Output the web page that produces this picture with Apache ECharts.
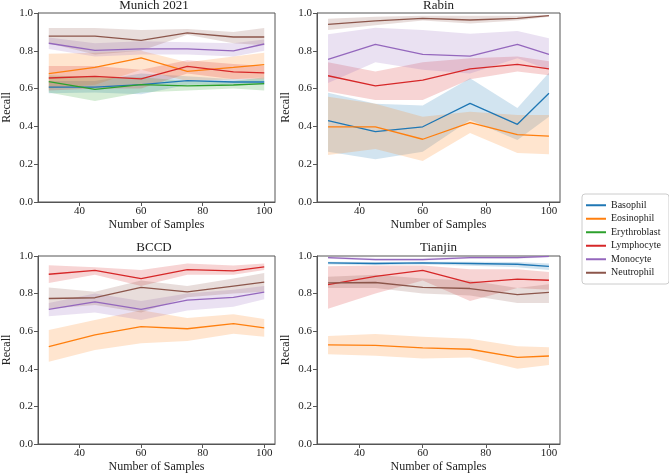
<!DOCTYPE html>
<html>
<head>
<meta charset="utf-8">
<script src="https://cdn.jsdelivr.net/npm/echarts@6/dist/echarts.min.js"></script>
<style>html,body{margin:0;padding:0;background:#fff}#c{width:669px;height:475px}</style>
</head>
<body>
<div id="c"></div>
<script>
// ---- data ----
const xs = [30, 45, 60, 75, 90, 100];
const classNames = ['Basophil', 'Eosinophil', 'Erythroblast', 'Lymphocyte', 'Monocyte', 'Neutrophil'];
const panelTitles = ['Munich 2021', 'Rabin', 'BCCD', 'Tianjin'];
const xTickValues = [40, 60, 80, 100];

// Munich 2021
const munBaso = [0.608, 0.608, 0.621, 0.642, 0.635, 0.635];
const munBasoLo = [0.575, 0.58, 0.57, 0.62, 0.62, 0.62];
const munBasoHi = [0.64, 0.64, 0.68, 0.665, 0.65, 0.65];
const munEos = [0.679, 0.712, 0.762, 0.691, 0.712, 0.727];
const munEosLo = [0.60, 0.62, 0.70, 0.64, 0.65, 0.66];
const munEosHi = [0.785, 0.79, 0.80, 0.74, 0.77, 0.79];
const munEry = [0.637, 0.596, 0.621, 0.614, 0.619, 0.626];
const munEryLo = [0.58, 0.535, 0.58, 0.59, 0.60, 0.59];
const munEryHi = [0.67, 0.66, 0.66, 0.64, 0.64, 0.66];
const munLym = [0.656, 0.665, 0.651, 0.718, 0.688, 0.683];
const munLymLo = [0.59, 0.60, 0.60, 0.68, 0.65, 0.65];
const munLymHi = [0.72, 0.72, 0.70, 0.75, 0.73, 0.72];
const munMon = [0.840, 0.802, 0.810, 0.810, 0.800, 0.836];
const munMonLo = [0.81, 0.77, 0.78, 0.78, 0.77, 0.80];
const munMonHi = [0.87, 0.84, 0.85, 0.845, 0.84, 0.86];
const munNeu = [0.878, 0.878, 0.855, 0.895, 0.873, 0.873];
const munNeuLo = [0.84, 0.78, 0.80, 0.885, 0.84, 0.83];
const munNeuHi = [0.92, 0.92, 0.91, 0.915, 0.90, 0.92];

// Rabin
const rabBaso = [0.430, 0.372, 0.398, 0.522, 0.411, 0.575];
const rabBasoLo = [0.266, 0.226, 0.266, 0.434, 0.328, 0.451];
const rabBasoHi = [0.578, 0.52, 0.51, 0.655, 0.497, 0.684];
const rabEos = [0.398, 0.398, 0.332, 0.420, 0.356, 0.349];
const rabEosLo = [0.249, 0.28, 0.217, 0.365, 0.259, 0.252];
const rabEosHi = [0.557, 0.52, 0.451, 0.478, 0.46, 0.46];
const rabLym = [0.668, 0.614, 0.645, 0.704, 0.728, 0.704];
const rabLymLo = [0.584, 0.54, 0.54, 0.65, 0.69, 0.67];
const rabLymHi = [0.739, 0.69, 0.74, 0.76, 0.77, 0.745];
const rabMon = [0.755, 0.834, 0.781, 0.772, 0.834, 0.781];
const rabMonLo = [0.63, 0.74, 0.70, 0.68, 0.76, 0.70];
const rabMonHi = [0.887, 0.922, 0.91, 0.89, 0.905, 0.866];
const rabNeu = [0.940, 0.958, 0.972, 0.963, 0.972, 0.986];
const rabNeuLo = [0.91, 0.935, 0.96, 0.945, 0.96, 0.98];
const rabNeuHi = [0.97, 0.98, 0.985, 0.985, 0.985, 0.99];

// BCCD
const bccdEos = [0.518, 0.580, 0.624, 0.613, 0.640, 0.618];
const bccdEosLo = [0.438, 0.50, 0.536, 0.548, 0.587, 0.571];
const bccdEosHi = [0.606, 0.66, 0.712, 0.67, 0.69, 0.665];
const bccdLym = [0.903, 0.924, 0.880, 0.928, 0.921, 0.942];
const bccdLymLo = [0.857, 0.90, 0.84, 0.90, 0.90, 0.925];
const bccdLymHi = [0.951, 0.94, 0.925, 0.96, 0.95, 0.96];
const bccdMon = [0.716, 0.756, 0.716, 0.765, 0.780, 0.808];
const bccdMonLo = [0.68, 0.70, 0.66, 0.71, 0.73, 0.77];
const bccdMonHi = [0.75, 0.80, 0.76, 0.80, 0.82, 0.84];
const bccdNeu = [0.774, 0.778, 0.833, 0.809, 0.840, 0.861];
const bccdNeuLo = [0.72, 0.74, 0.70, 0.78, 0.80, 0.81];
const bccdNeuHi = [0.833, 0.81, 0.87, 0.84, 0.88, 0.91];

// Tianjin
const tjBaso = [0.963, 0.960, 0.963, 0.960, 0.956, 0.945];
const tjBasoLo = [0.955, 0.952, 0.955, 0.948, 0.94, 0.925];
const tjBasoHi = [0.97, 0.968, 0.97, 0.97, 0.968, 0.96];
const tjEos = [0.527, 0.525, 0.511, 0.504, 0.461, 0.468];
const tjEosLo = [0.477, 0.47, 0.455, 0.46, 0.40, 0.42];
const tjEosHi = [0.574, 0.585, 0.57, 0.56, 0.52, 0.515];
const tjLym = [0.848, 0.892, 0.924, 0.857, 0.877, 0.871];
const tjLymLo = [0.72, 0.80, 0.87, 0.76, 0.83, 0.82];
const tjLymHi = [0.945, 0.95, 0.95, 0.93, 0.93, 0.915];
const tjMon = [0.991, 0.981, 0.981, 0.991, 0.991, 0.998];
const tjMonLo = [0.985, 0.975, 0.975, 0.985, 0.985, 0.993];
const tjMonHi = [0.997, 0.99, 0.99, 0.997, 0.997, 1.0];
const tjNeu = [0.857, 0.859, 0.833, 0.827, 0.795, 0.806];
const tjNeuLo = [0.83, 0.83, 0.80, 0.79, 0.75, 0.75];
const tjNeuHi = [0.89, 0.90, 0.88, 0.87, 0.83, 0.85];

// ---- styling / layout ----
const colors = {
  Basophil: '#1f77b4', Eosinophil: '#ff7f0e', Erythroblast: '#2ca02c',
  Lymphocyte: '#d62728', Monocyte: '#9467bd', Neutrophil: '#8c564b'
};
const FONT = '"Liberation Serif", "DejaVu Serif", serif';
const grids = [
  { left: 33, top: 13, width: 242, height: 189 },
  { left: 317, top: 13, width: 243, height: 189 },
  { left: 33, top: 256, width: 242, height: 188 },
  { left: 317, top: 256, width: 243, height: 188 }
];

const panels = [
  [['Basophil', munBaso, munBasoLo, munBasoHi], ['Eosinophil', munEos, munEosLo, munEosHi],
   ['Erythroblast', munEry, munEryLo, munEryHi], ['Lymphocyte', munLym, munLymLo, munLymHi],
   ['Monocyte', munMon, munMonLo, munMonHi], ['Neutrophil', munNeu, munNeuLo, munNeuHi]],
  [['Basophil', rabBaso, rabBasoLo, rabBasoHi], ['Eosinophil', rabEos, rabEosLo, rabEosHi],
   ['Lymphocyte', rabLym, rabLymLo, rabLymHi], ['Monocyte', rabMon, rabMonLo, rabMonHi],
   ['Neutrophil', rabNeu, rabNeuLo, rabNeuHi]],
  [['Eosinophil', bccdEos, bccdEosLo, bccdEosHi], ['Lymphocyte', bccdLym, bccdLymLo, bccdLymHi],
   ['Monocyte', bccdMon, bccdMonLo, bccdMonHi], ['Neutrophil', bccdNeu, bccdNeuLo, bccdNeuHi]],
  [['Basophil', tjBaso, tjBasoLo, tjBasoHi], ['Eosinophil', tjEos, tjEosLo, tjEosHi],
   ['Lymphocyte', tjLym, tjLymLo, tjLymHi], ['Monocyte', tjMon, tjMonLo, tjMonHi],
   ['Neutrophil', tjNeu, tjNeuLo, tjNeuHi]]
];

const axisColor = '#555';
const lineSeries = [];
const bandSeries = [];
panels.forEach((list, gi) => {
  list.forEach(([name, mean, lo, hi]) => {
    const c = colors[name];
    lineSeries.push({
      type: 'line', name, xAxisIndex: gi, yAxisIndex: gi, z: 3,
      data: xs.map((x, i) => [x, mean[i]]),
      symbol: 'none', lineStyle: { width: 1.3, color: c }, itemStyle: { color: c },
      animation: false, silent: true
    });
    bandSeries.push({
      type: 'custom', name, xAxisIndex: gi, yAxisIndex: gi, z: 1,
      data: xs.map((x, i) => [x, lo[i], hi[i]]),
      itemStyle: { color: c }, animation: false, silent: true,
      renderItem: (params, api) => {
        if (params.dataIndex !== 0) return null;
        const pts = [];
        for (let i = 0; i < xs.length; i++) pts.push(api.coord([xs[i], hi[i]]));
        for (let i = xs.length - 1; i >= 0; i--) pts.push(api.coord([xs[i], lo[i]]));
        return { type: 'polygon', shape: { points: pts }, style: { fill: c + '33', stroke: null } };
      }
    });
  });
});

const option = {
  backgroundColor: '#fff',
  animation: false,
  textStyle: { fontFamily: FONT },
  title: grids.map((g, i) => ({
    text: panelTitles[i], left: g.left + g.width / 2, top: i < 2 ? -1 : 241, textAlign: 'center',
    padding: 0,
    textStyle: { fontFamily: FONT, fontSize: 13, fontWeight: 'normal', color: '#222' }
  })),
  grid: grids.map(g => Object.assign({ show: true, borderColor: axisColor, borderWidth: 1, backgroundColor: 'transparent' }, g)),
  xAxis: grids.map((g, i) => ({
    type: 'value', gridIndex: i, min: 26.5, max: 103.5,
    name: 'Number of Samples', nameLocation: 'middle', nameGap: 17,
    nameTextStyle: { fontFamily: FONT, fontSize: 12, color: '#222' },
    axisLine: { show: true, lineStyle: { color: axisColor } },
    axisTick: { show: true, length: 4, lineStyle: { color: axisColor }, customValues: xTickValues },
    axisLabel: { fontFamily: FONT, fontSize: 11, color: '#222', margin: 4, customValues: xTickValues },
    splitLine: { show: false }
  })),
  yAxis: grids.map((g, i) => ({
    type: 'value', gridIndex: i, min: 0, max: 1, interval: 0.2,
    name: 'Recall', nameLocation: 'middle', nameGap: 25, nameRotate: 90,
    nameTextStyle: { fontFamily: FONT, fontSize: 12, color: '#222' },
    axisLine: { show: true, lineStyle: { color: axisColor } },
    axisTick: { show: true, length: 4, lineStyle: { color: axisColor } },
    axisLabel: { fontFamily: FONT, fontSize: 11, color: '#222', margin: 5, formatter: v => v.toFixed(1) },
    splitLine: { show: false }
  })),
  legend: {
    orient: 'vertical', left: 582, top: 194,
    data: classNames.map(n => ({ name: n, itemStyle: { color: colors[n] } })),
    icon: 'rect', itemWidth: 20, itemHeight: 2, itemGap: 1,
    padding: [5, 8, 5, 4], borderColor: '#ccc', borderWidth: 1, borderRadius: 3,
    backgroundColor: '#fff',
    textStyle: { fontFamily: FONT, fontSize: 10, color: '#222', lineHeight: 12.5 },
    selectedMode: false
  },
  series: lineSeries.concat(bandSeries)
};

const chart = echarts.init(document.getElementById('c'), null, { renderer: 'canvas' });
chart.setOption(option);
</script>
</body>
</html>
